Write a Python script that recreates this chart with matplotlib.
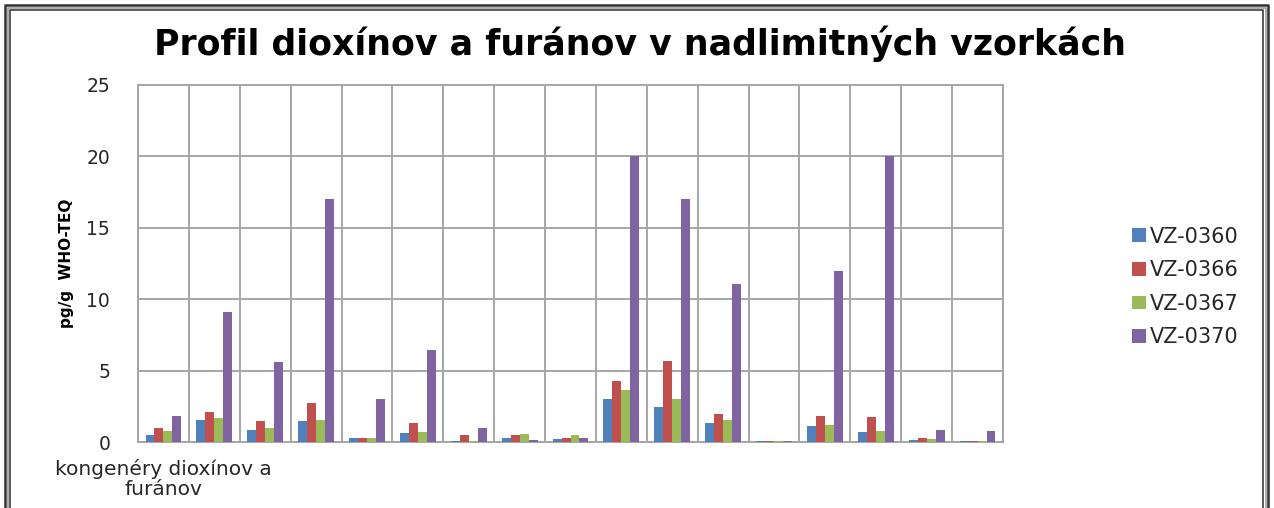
import numpy as np
import matplotlib.pyplot as plt
from matplotlib.lines import Line2D

plt.rcParams['font.family'] = ['DejaVu Sans']

# 17 kongenérov, hodnoty v pg/g WHO-TEQ
kategorie = ['kongenéry dioxínov a\nfuránov'] + [''] * 16
vzorky = ['VZ-0360', 'VZ-0366', 'VZ-0367', 'VZ-0370']
vz_0360 = [0.52, 1.52, 0.82, 1.45, 0.28, 0.66, 0.07, 0.28, 0.23, 3.0, 2.43, 1.31, 0.05, 1.15, 0.70, 0.16, 0.05]
vz_0366 = [0.96, 2.13, 1.45, 2.71, 0.28, 1.31, 0.47, 0.47, 0.30, 4.3, 5.7, 1.99, 0.05, 1.80, 1.73, 0.26, 0.05]
vz_0367 = [0.77, 1.67, 0.96, 1.52, 0.28, 0.70, 0.07, 0.59, 0.47, 3.62, 3.01, 1.52, 0.05, 1.20, 0.77, 0.19, 0.05]
vz_0370 = [1.8, 9.1, 5.63, 17.0, 3.0, 6.42, 1.0, 0.16, 0.28, 20.0, 17.0, 11.04, 0.05, 12.0, 20.0, 0.82, 0.77]
farby = ['#4F81BD', '#C0504D', '#9BBB59', '#8064A2']

W, H = 1274, 508
fig = plt.figure(figsize=(W / 100, H / 100), dpi=100)
fig.patch.set_facecolor('white')
ax = fig.add_axes([138 / W, 1 - 442 / H, (1003 - 138) / W, (442 - 85) / H])

x = np.arange(len(kategorie))
sirka = 0.176
for i, (data, meno, farba) in enumerate(zip([vz_0360, vz_0366, vz_0367, vz_0370], vzorky, farby)):
    ax.bar(x + (i - 1.5) * sirka, data, sirka, color=farba, label=meno, zorder=3)

ax.set_xlim(-0.5, len(kategorie) - 0.5)
ax.set_ylim(0, 25)
ax.set_yticks(np.arange(0, 26, 5))
ax.set_xticks(x)
ax.set_xticklabels(kategorie, fontsize=14.5, color='#262626', linespacing=1.1)
ax.set_xticks(np.arange(-0.5, len(kategorie), 1), minor=True)
ax.tick_params(axis='both', which='both', length=0)
ax.tick_params(axis='y', labelsize=13.5, labelcolor='#262626', pad=20)
ax.tick_params(axis='x', pad=12)
ax.grid(axis='y', color='#A6A6A6', linewidth=1.4, zorder=0)
ax.grid(axis='x', which='minor', color='#A6A6A6', linewidth=1.4, zorder=0)
for s in ax.spines.values():
    s.set_color('#A6A6A6')
    s.set_linewidth(1.4)

ax.set_ylabel('pg/g  WHO-TEQ', fontsize=11, fontweight='bold', labelpad=9)

fig.text(640 / W, 1 - 55 / H, 'Profil dioxínov a furánov v nadlimitných vzorkách',
         ha='center', va='baseline', fontsize=25, fontweight='bold')

leg = fig.legend(loc='center left', bbox_to_anchor=(1124 / W, 1 - 287 / H), frameon=False,
                 fontsize=15, handlelength=0.65, handleheight=0.65, handletextpad=0.2,
                 labelspacing=0.65, borderaxespad=0)
for t in leg.get_texts():
    t.set_color('#262626')

# dvojitý rámček okolo grafu
def ciara(xs, ys, farba, hrubka):
    fig.add_artist(Line2D([v / W for v in xs], [1 - v / H for v in ys],
                          color=farba, linewidth=hrubka, transform=fig.transFigure))

ciara([5, 5, 1268, 1268], [520, 5, 5, 520], '#303030', 1.8)
ciara([7.5, 7.5, 1265.5, 1265.5], [520, 7.5, 7.5, 520], '#A0A0A0', 1.2)
ciara([10, 10, 1263, 1263], [520, 10, 10, 520], '#404040', 1.2)

fig.savefig('out.png', dpi=100)
